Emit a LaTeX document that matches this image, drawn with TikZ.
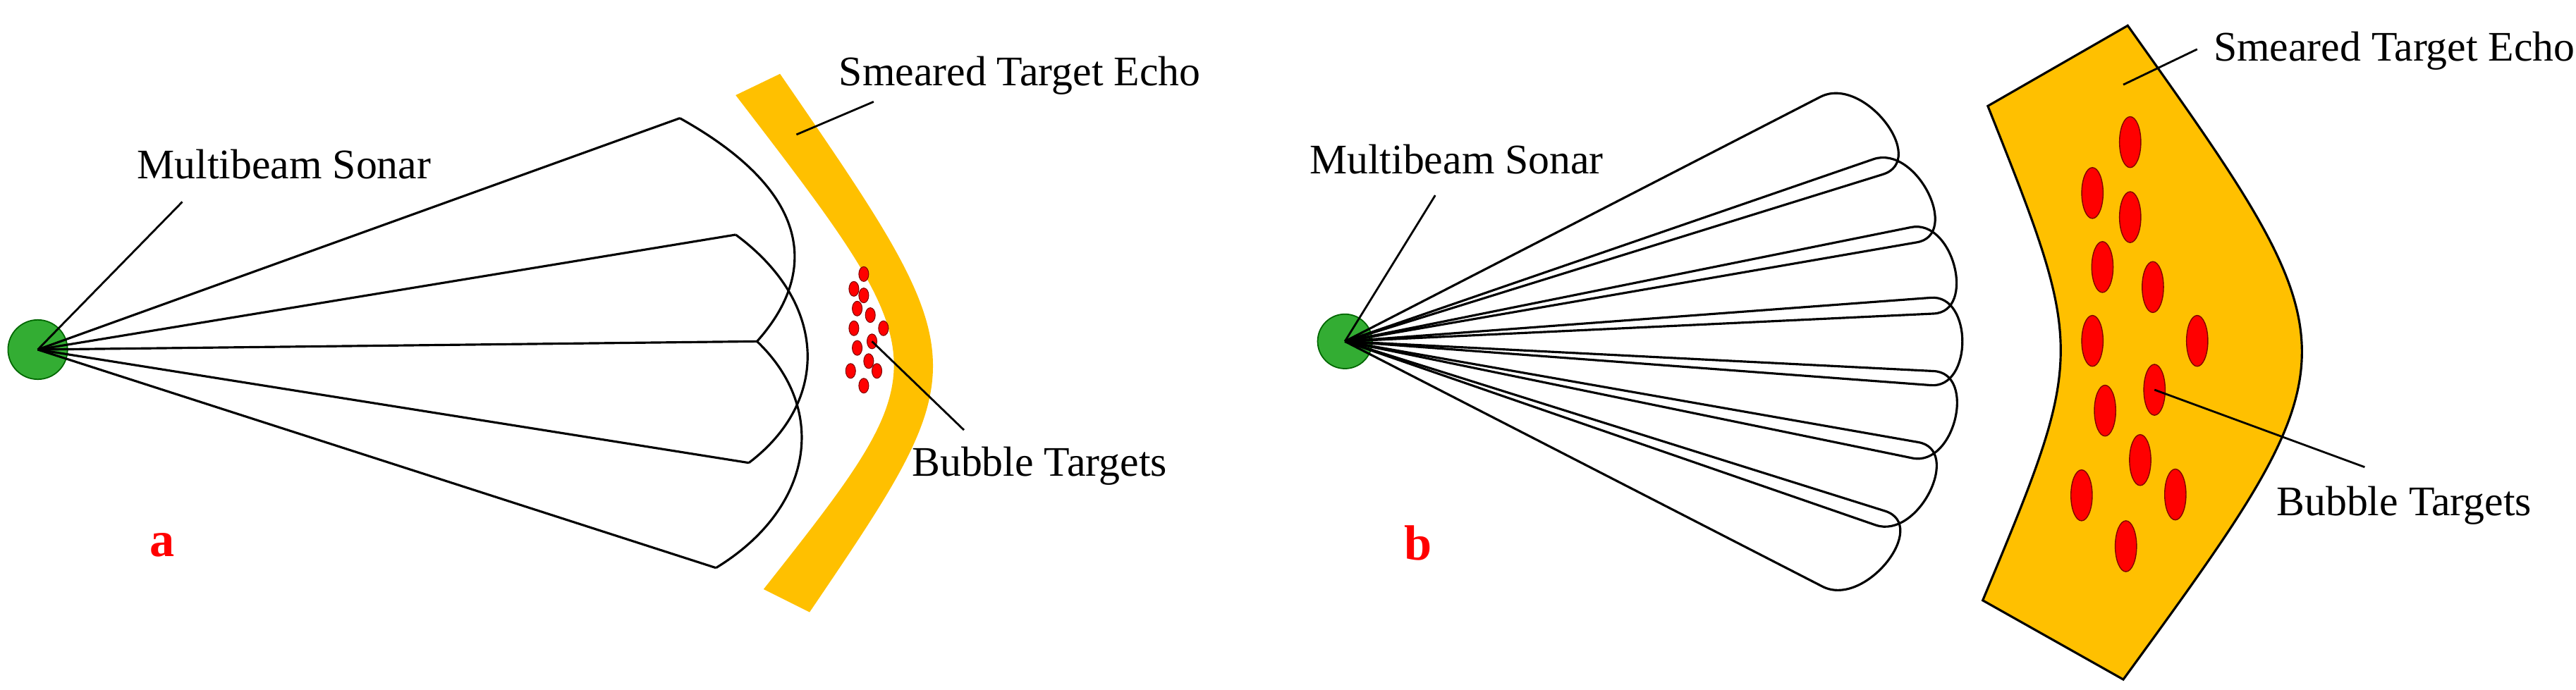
\documentclass[tikz,border=0pt]{standalone}
\usepackage{fontspec}
\setmainfont{Liberation Serif}
\begin{document}
\begin{tikzpicture}[x=0.023287cm,y=-0.023287cm,
  beam/.style={line width=0.9pt,line join=round},
  lbl/.style={font=\fontsize{17}{20}\selectfont,inner sep=0pt},
  lead/.style={line width=0.8pt},
  tag/.style={font=\fontsize{20}{24}\selectfont\bfseries,text=red,inner sep=0pt},
  sonar/.style={circle,fill=green!60!black!80,draw=green!40!black,line width=0.5pt,minimum size=22,inner sep=0pt},
  smallbub/.style={fill=red,draw=red!50!black,line width=0.3pt},
  bigbub/.style={fill=red,draw=red!50!black,line width=0.4pt}]
\definecolor{echo}{RGB}{255,192,0}
\useasboundingbox (0,0) rectangle (1568.7,420);
% ---------- panel a ----------
\fill[echo] (448,58) -- (475,45) .. controls (596,221) .. (493,373) -- (465,359) .. controls (573.5,221.5) .. (448,58) -- cycle;
\node[sonar,minimum size=24] (sa) at (23,213) {};
\coordinate (a1) at (414,72);
\coordinate (a2) at (448,143);
\coordinate (a3) at (461,208);
\coordinate (a4) at (456,282);
\coordinate (a5) at (436,346);
\foreach \p in {a1,a2,a3,a4,a5} \draw[beam] (sa.center) -- (\p);
\draw[beam] (a1) .. controls (500,120) and (495,170) .. (a3);
\draw[beam] (a2) .. controls (505,185) and (505,245) .. (a4);
\draw[beam] (a3) .. controls (505,250) and (495,310) .. (a5);
\foreach \x/\y in {526/167,520/176,526/180,522/188,530/192,520/200,538/200,531/208,522/212,529/220,518/226,534/226,526/235}
  \draw[smallbub] (\x,\y) ellipse [x radius=3,y radius=4.5];
\coordinate (ba) at (531,208);
\node[lbl] (lsa) at (173,100) {Multibeam Sonar};
\coordinate (lsa1) at (111,123);
\draw[lead] (lsa1) -- (sa.center);
\node[lbl] (lea) at (621,46) {Smeared Target Echo};
\coordinate (lea1) at (532,62); \coordinate (lea2) at (485,82);
\draw[lead] (lea1) -- (lea2);
\node[lbl] (lba) at (633,284) {Bubble Targets};
\coordinate (lba1) at (587,262);
\draw[lead] (lba1) -- (ba);
\node[tag] (ta) at (99,332) {a};
% ---------- panel b ----------
\draw[echo!100,fill=echo,draw=black,line width=0.9pt] (1210.5,64.6) -- (1295.7,15.6) .. controls (1437.6,215.2) .. (1293,414) -- (1207.4,365.8) .. controls (1270.2,214.8) .. (1210.5,64.6) -- cycle;
\node[sonar] (sb) at (819,208) {};
\foreach \i/\ax/\ay/\bx/\by/\t in {
  1/1108.6/59.0/1146.4/106.3/22,
  2/1140.8/97.0/1167.0/147.7/14,
  3/1163.6/138.5/1177.3/191.1/7,
  4/1175.6/181.4/1175.6/234.7/0,
  5/1177.3/226.1/1164.4/279.1/-7,
  6/1167.9/269.4/1142.1/319.9/-14,
  7/1147.7/311.3/1109.9/357.4/-22}{
  \coordinate (A\i) at (\ax,\ay);
  \coordinate (B\i) at (\bx,\by);
  \draw[beam] (sb.center) -- (A\i) to[out=\t+5,in=\t-5,looseness=1.25] (B\i) -- (sb.center);
}
\foreach \x/\y in {1297.2/86.6,1274.2/117.6,1297.2/132.3,1280.3/162.7,1311/174.9,1274.2/207.7,1338/207.7,1312/237.5,1281.9/250.2,1303.3/280.3,1267.6/301.8,1324.7/301.3,1294.6/332.8}
  \draw[bigbub] (\x,\y) ellipse [x radius=6.5,y radius=15.5];
\coordinate (bb) at (1312,237.5);
\node[lbl] (lsb) at (887,97) {Multibeam Sonar};
\coordinate (lsb1) at (874,119);
\draw[lead] (lsb1) -- (sb.center);
\node[lbl] (leb) at (1458,30.9) {Smeared Target Echo};
\coordinate (leb1) at (1338,30); \coordinate (leb2) at (1293,51.6);
\draw[lead] (leb1) -- (leb2);
\node[lbl] (lbb) at (1464,308) {Bubble Targets};
\coordinate (lbb1) at (1440,284.6);
\draw[lead] (lbb1) -- (bb);
\node[tag] (tb) at (863.7,331) {b};
\end{tikzpicture}
\end{document}
